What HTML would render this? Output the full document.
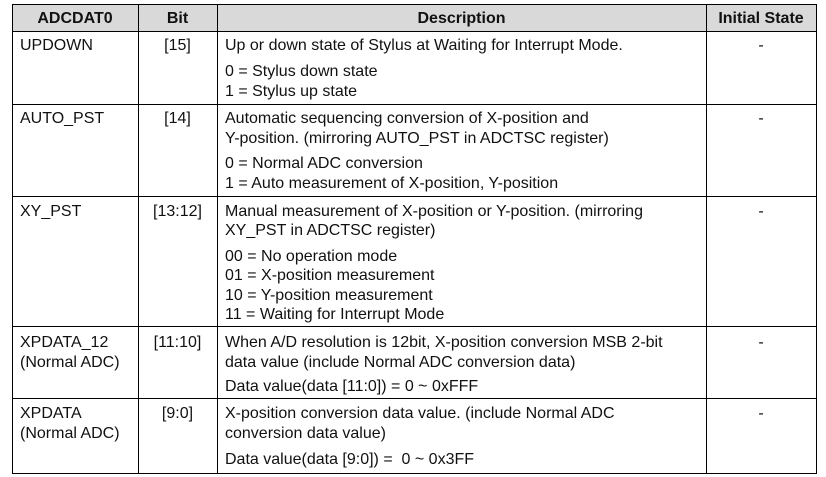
<!DOCTYPE html>
<html><head><meta charset="utf-8"><style>
body{margin:0;width:826px;height:477px;background:#fff;position:relative;overflow:hidden;font-family:"Liberation Sans",Arial,sans-serif;font-size:16px;color:#111}
.t{position:absolute;line-height:19px;white-space:nowrap}
.c{text-align:center}
.h{font-weight:bold;font-size:16px}
.hl{position:absolute;height:1px;background:#000;left:12px;width:805px}
.vl{position:absolute;width:1px;background:#000;top:4px;height:470px}
</style></head><body>
<div>
<div style="position:absolute;left:12px;top:4px;width:805px;height:27px;background:#d9d9d9"></div>
<div class="hl" style="top:4px"></div><div class="hl" style="top:31px"></div>
<div class="hl" style="top:104px"></div><div class="hl" style="top:196px"></div>
<div class="hl" style="top:326px"></div><div class="hl" style="top:398px"></div>
<div class="hl" style="top:473px"></div>
<div class="vl" style="left:12px"></div><div class="vl" style="left:138px"></div>
<div class="vl" style="left:217px"></div><div class="vl" style="left:706px"></div>
<div class="vl" style="left:816px"></div>

<div class="t c h" style="left:12px;width:126px;top:9px">ADCDAT0</div>
<div class="t c h" style="left:138px;width:79px;top:9px">Bit</div>
<div class="t c h" style="left:217px;width:489px;top:9px">Description</div>
<div class="t c h" style="left:706px;width:110px;top:9px">Initial State</div>

<div class="t" style="left:20px;top:36px">UPDOWN</div>
<div class="t c" style="left:138px;width:79px;top:36px">[15]</div>
<div class="t" style="left:225px;top:36px">Up or down state of Stylus at Waiting for Interrupt Mode.</div>
<div class="t" style="left:225px;top:62px">0 = Stylus down state</div>
<div class="t" style="left:225px;top:82px">1 = Stylus up state</div>
<div class="t c" style="left:706px;width:110px;top:36px">-</div>

<div class="t" style="left:20px;top:109px">AUTO_PST</div>
<div class="t c" style="left:138px;width:79px;top:109px">[14]</div>
<div class="t" style="left:225px;top:109px">Automatic sequencing conversion of X-position and</div>
<div class="t" style="left:225px;top:129px">Y-position. (mirroring AUTO_PST in ADCTSC register)</div>
<div class="t" style="left:225px;top:154px">0 = Normal ADC conversion</div>
<div class="t" style="left:225px;top:174px">1 = Auto measurement of X-position, Y-position</div>
<div class="t c" style="left:706px;width:110px;top:109px">-</div>

<div class="t" style="left:20px;top:202px">XY_PST</div>
<div class="t c" style="left:138px;width:79px;top:202px">[13:12]</div>
<div class="t" style="left:225px;top:202px">Manual measurement of X-position or Y-position. (mirroring</div>
<div class="t" style="left:225px;top:221px">XY_PST in ADCTSC register)</div>
<div class="t" style="left:225px;top:247px">00 = No operation mode</div>
<div class="t" style="left:225px;top:266px">01 = X-position measurement</div>
<div class="t" style="left:225px;top:286px">10 = Y-position measurement</div>
<div class="t" style="left:225px;top:305px">11 = Waiting for Interrupt Mode</div>
<div class="t c" style="left:706px;width:110px;top:202px">-</div>

<div class="t" style="left:20px;top:333px;line-height:20px">XPDATA_12<br>(Normal ADC)</div>
<div class="t c" style="left:138px;width:79px;top:333px">[11:10]</div>
<div class="t" style="left:225px;top:333px">When A/D resolution is 12bit, X-position conversion MSB 2-bit</div>
<div class="t" style="left:225px;top:353px">data value (include Normal ADC conversion data)</div>
<div class="t" style="left:225px;top:377px">Data value(data [11:0]) = 0 ~ 0xFFF</div>
<div class="t c" style="left:706px;width:110px;top:333px">-</div>

<div class="t" style="left:20px;top:404px;line-height:20px">XPDATA<br>(Normal ADC)</div>
<div class="t c" style="left:138px;width:79px;top:404px">[9:0]</div>
<div class="t" style="left:225px;top:404px">X-position conversion data value. (include Normal ADC</div>
<div class="t" style="left:225px;top:424px">conversion data value)</div>
<div class="t" style="left:225px;top:450px">Data value(data [9:0]) =&nbsp; 0 ~ 0x3FF</div>
<div class="t c" style="left:706px;width:110px;top:404px">-</div>
</div>
</body></html>
